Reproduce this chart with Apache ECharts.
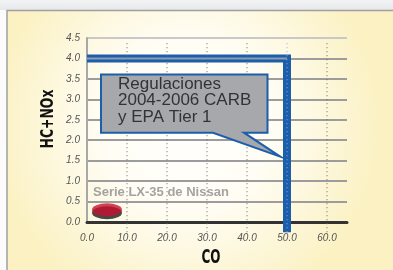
<!DOCTYPE html>
<html>
<head>
<meta charset="utf-8">
<script src="https://cdn.jsdelivr.net/npm/echarts@6/dist/echarts.min.js"></script>
<style>
  html, body { margin: 0; padding: 0; background: #fff; }
  #chart { width: 393px; height: 270px; }
</style>
</head>
<body>
<div id="chart"></div>
<script>
  // valores
  const coTicks = [10, 20, 30, 40, 50, 60];
  const regCO = [0, 50, 50];
  const regHC = [4.0, 4.0, -0.25];   // la banda azul baja un poco bajo el eje
  const nissanCO = [5.0];
  const nissanHC = [0.3];
  const noteLines = ['Regulaciones', '2004-2006 CARB', 'y EPA Tier 1'];
  const nissanName = 'Serie LX-35 de Nissan';

  const chart = echarts.init(document.getElementById('chart'));

  const gridColors = ['#9c9c9c', '#9c9c9c', '#9c9c9c', '#9c9c9c', '#9c9c9c',
                      '#9c9c9c', '#9c9c9c', '#9c9c9c', '#9c9c9c', '#c8c8c8'];

  let option = {
    animation: false,
    backgroundColor: '#fbfbfb',
    grid: { left: 87, top: 38, right: 46, bottom: 48, containLabel: false, outerBoundsMode: 'none' },
    xAxis: {
      type: 'value', min: 0, max: 65, interval: 10,
      axisLine: { show: true, onZero: false, lineStyle: { color: '#333', width: 3 } },
      axisTick: { show: false },
      splitLine: { show: false },
      axisLabel: {
        margin: 11, color: '#555', fontSize: 10, fontStyle: 'italic', fontFamily: 'Liberation Sans',
        formatter: v => (v > 60 ? '' : v.toFixed(1))
      }
    },
    yAxis: {
      type: 'value', min: 0, max: 4.5, interval: 0.5,
      axisLine: { show: true, lineStyle: { color: '#a8a8a8', width: 2 } },
      axisTick: { show: false },
      splitLine: { show: true, lineStyle: { color: gridColors, width: 2 } },
      axisLabel: {
        margin: 7, color: '#555', fontSize: 10, fontStyle: 'italic', fontFamily: 'Liberation Sans',
        formatter: v => v.toFixed(1)
      }
    },
    series: [
      {
        name: 'Regulaciones',
        type: 'line',
        data: regCO.map((x, i) => [x, regHC[i]]),
        symbol: 'none',
        clip: false,
        z: 3,
        lineStyle: { color: '#1b5eab', width: 8, join: 'miter', cap: 'butt' }
      },
      {
        // linea de 4.0 que se ve dentro de la banda
        type: 'line',
        data: regCO.slice(0, 2).map((x, i) => [x, regHC[i]]),
        symbol: 'none',
        silent: true,
        z: 4,
        lineStyle: { color: '#8d9cb0', width: 2 }
      },
      {
        // lineas punteadas verticales
        type: 'custom',
        data: coTicks,
        silent: true,
        z: 5,
        renderItem: function (params, api) {
          const x = api.value(0);
          const p1 = api.coord([x, -0.25]);
          const p2 = api.coord([x, 4.42]);
          return {
            type: 'line',
            shape: { x1: p1[0], y1: p1[1], x2: p2[0], y2: p2[1] },
            style: {
              stroke: x === 50 ? '#8fb2de' : '#666',
              lineWidth: 1,
              lineDash: [1, 3]
            }
          };
        },
        encode: { x: 0 }
      },
      {
        name: nissanName,
        type: 'scatter',
        data: nissanCO.map((x, i) => [x, nissanHC[i]]),
        symbol: 'circle',
        symbolSize: [30, 13],
        z: 6,
        itemStyle: {
          color: '#c8102e',
          shadowColor: '#1c1c1c',
          shadowBlur: 0,
          shadowOffsetY: 3
        },
        label: {
          show: true,
          formatter: nissanName,
          position: [1, -11],
          align: 'left',
          verticalAlign: 'middle',
          color: '#8c8c8c',
          fontSize: 13,
          fontWeight: 'bold',
          fontFamily: 'Liberation Sans'
        }
      }
    ]
  };
  chart.setOption(option);

  // nota con flecha hacia la banda
  const tip = chart.convertToPixel({ gridIndex: 0 }, [48.3, 1.6]);
  const bx0 = 101, by0 = 74.5, bx1 = 267.5, by1 = 132.7;

  chart.setOption({
    graphic: [
      {
        type: 'rect', z: -10, silent: true,
        shape: { x: 0, y: 0, width: 393, height: 10 },
        style: {
          fill: new echarts.graphic.LinearGradient(0, 0, 0, 1, [
            { offset: 0, color: '#f2f3f4' }, { offset: 1, color: '#e6e8eb' }
          ])
        }
      },
      {
        type: 'rect', z: -10, silent: true,
        shape: { x: 7, y: 10.5, width: 400, height: 270 },
        style: {
          fill: new echarts.graphic.RadialGradient(0.45, 0.42, 0.72, [
            { offset: 0, color: '#ffffff' },
            { offset: 0.45, color: '#fffdf3' },
            { offset: 1, color: '#fbf1c2' }
          ]),
          stroke: '#a0a0a0', lineWidth: 1.5
        }
      },
      {
        type: 'polygon', z: 20, silent: true,
        shape: {
          points: [[bx0, by0], [bx1, by0], [bx1, by1], [244, by1], tip, [213, by1], [bx0, by1]]
        },
        style: { fill: '#a7a8ab', stroke: '#1b5eab', lineWidth: 2, lineJoin: 'miter' }
      },
      {
        type: 'text', z: 21, silent: true,
        x: 118, y: 76,
        style: {
          text: noteLines.join('\n'),
          font: '17px "Liberation Sans"',
          fill: '#333',
          lineHeight: 16.5,
          textVerticalAlign: 'top'
        }
      },
      {
        type: 'text', z: 21, silent: true,
        x: 48.5, y: 119, rotation: Math.PI / 2, scaleX: 0.73,
        style: {
          text: 'HC+NOx',
          font: 'bold 17px "DejaVu Sans"',
          fill: '#111',
          textAlign: 'center',
          textVerticalAlign: 'middle'
        }
      },
      {
        type: 'text', z: 21, silent: true,
        x: 211, y: 258, scaleX: 0.6,
        style: {
          text: 'CO',
          font: 'bold 20px "DejaVu Sans"',
          fill: '#111',
          textAlign: 'center',
          textVerticalAlign: 'middle'
        }
      }
    ]
  });
</script>
</body>
</html>
